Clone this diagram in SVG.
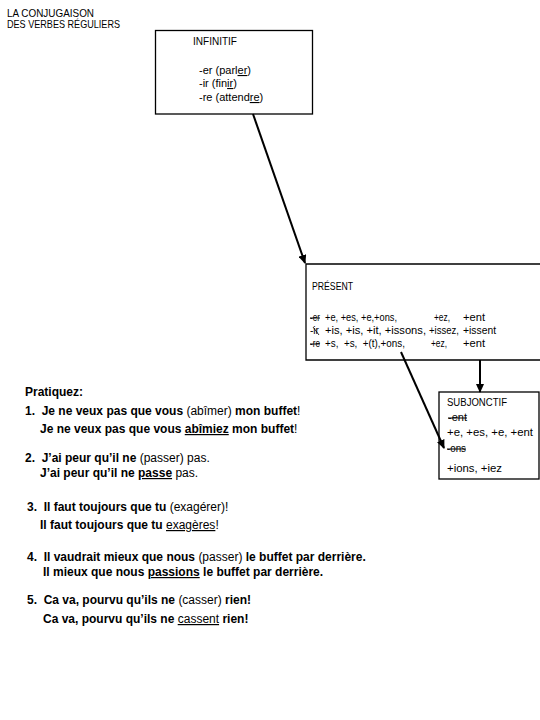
<svg xmlns="http://www.w3.org/2000/svg" width="540" height="720" viewBox="0 0 540 720">
<style>
  text { font-family: "Liberation Sans", Arial, sans-serif; fill: #000; }
  .t { font-size: 11px; }
  .b { font-size: 10px; }
  .i { font-size: 11px; }
  .p { font-size: 12px; font-weight: bold; }
  .n { font-weight: normal; }
  .u { text-decoration: underline; }
  .s { text-decoration: line-through; }
  .box { fill: #fff; stroke: #000; stroke-width: 1.3; }
  .conn { stroke: #000; stroke-width: 2; fill: none; marker-end: url(#ah); }
</style>
<defs>
  <marker id="ah" markerUnits="userSpaceOnUse" markerWidth="9" markerHeight="8" refX="8" refY="4" orient="auto">
    <path d="M0,0 L9,4 L0,8 z" fill="#000"/>
  </marker>
</defs>
<rect width="540" height="720" fill="#fff"/>

<g id="title">
  <text class="t" x="7" y="17" textLength="87" lengthAdjust="spacingAndGlyphs">LA CONJUGAISON</text>
  <text class="t" x="7" y="28" textLength="113" lengthAdjust="spacingAndGlyphs">DES VERBES RÉGULIERS</text>
</g>

<g id="infinitif">
  <rect class="box" x="155.5" y="30.5" width="157" height="83.5"/>
  <text class="b" x="193" y="45" textLength="44" lengthAdjust="spacingAndGlyphs">INFINITIF</text>
  <text class="i" x="199" y="74">-er (parl<tspan class="u">er</tspan>)</text>
  <text class="i" x="199" y="87">-ir (fin<tspan class="u">ir</tspan>)</text>
  <text class="i" x="199" y="101">-re (attend<tspan class="u">re</tspan>)</text>
</g>

<g id="present">
  <path class="box" d="M545,264 H306 V360 H545"/>
  <text class="b" x="312" y="290" textLength="41" lengthAdjust="spacingAndGlyphs">PRÉSENT</text>
  <text class="b s" x="310" y="321" textLength="10" lengthAdjust="spacingAndGlyphs">-er</text>
  <text class="b" x="325" y="321" textLength="72" lengthAdjust="spacingAndGlyphs">+e, +es, +e,+ons,</text>
  <text class="b" x="434" y="321" textLength="16" lengthAdjust="spacingAndGlyphs">+ez,</text>
  <text class="b" x="463" y="321" textLength="22" lengthAdjust="spacingAndGlyphs">+ent</text>
  <text class="b" x="310" y="334" textLength="9" lengthAdjust="spacingAndGlyphs">-ir</text>
  <line x1="313" y1="327" x2="319" y2="335" stroke="#000" stroke-width="0.8"/>
  <text class="b" x="325" y="334" textLength="101" lengthAdjust="spacingAndGlyphs">+is, +is, +it, +issons,</text>
  <text class="b" x="429" y="334" textLength="30" lengthAdjust="spacingAndGlyphs">+issez,</text>
  <text class="b" x="463" y="334" textLength="33" lengthAdjust="spacingAndGlyphs">+issent</text>
  <text class="b s" x="310" y="347" textLength="10" lengthAdjust="spacingAndGlyphs">-re</text>
  <text class="b" x="325" y="347" textLength="80" lengthAdjust="spacingAndGlyphs" xml:space="preserve">+s,  +s,  +(t),+ons,</text>
  <text class="b" x="431" y="347" textLength="16" lengthAdjust="spacingAndGlyphs">+ez,</text>
  <text class="b" x="463" y="347" textLength="22" lengthAdjust="spacingAndGlyphs">+ent</text>
</g>

<g id="subjonctif">
  <rect class="box" x="439" y="392" width="100" height="87"/>
  <text class="b" x="447" y="406" textLength="60" lengthAdjust="spacingAndGlyphs">SUBJONCTIF</text>
  <text class="b s" x="448" y="421" textLength="19" lengthAdjust="spacingAndGlyphs">-ent</text>
  <text class="b" x="447" y="436" textLength="86" lengthAdjust="spacingAndGlyphs">+e, +es, +e, +ent</text>
  <text class="b s" x="447" y="452" textLength="19" lengthAdjust="spacingAndGlyphs">-ons</text>
  <text class="b" x="447" y="472" textLength="55" lengthAdjust="spacingAndGlyphs">+ions, +iez</text>
</g>

<g id="connectors">
  <line class="conn" x1="253" y1="114" x2="305" y2="263"/>
  <line class="conn" x1="401" y1="352" x2="444" y2="448"/>
  <line class="conn" x1="480" y1="360" x2="480" y2="392"/>
</g>

<g id="pratiquez">
  <text class="p" x="25" y="396">Pratiquez:</text>
  <text class="p" x="25" y="415" xml:space="preserve">1.  Je ne veux pas que vous <tspan class="n">(abîmer)</tspan> mon buffet<tspan class="n">!</tspan></text>
  <text class="p" x="40" y="433">Je ne veux pas que vous <tspan class="u">abîmiez</tspan> mon buffet<tspan class="n">!</tspan></text>
  <text class="p" x="25" y="462" xml:space="preserve">2.  J’ai peur qu’il ne <tspan class="n">(passer) pas.</tspan></text>
  <text class="p" x="40" y="477">J’ai peur qu’il ne <tspan class="u">passe</tspan><tspan class="n"> pas.</tspan></text>
  <text class="p" x="27" y="511" xml:space="preserve">3.  Il faut toujours que tu <tspan class="n">(exagérer)!</tspan></text>
  <text class="p" x="40" y="529">Il faut toujours que tu <tspan class="n u">exagères</tspan><tspan class="n">!</tspan></text>
  <text class="p" x="27" y="561" xml:space="preserve">4.  Il vaudrait mieux que nous <tspan class="n">(passer)</tspan> le buffet par derrière.</text>
  <text class="p" x="43" y="576">Il mieux que nous <tspan class="u">passions</tspan> le buffet par derrière.</text>
  <text class="p" x="27" y="604" xml:space="preserve">5.  Ca va, pourvu qu’ils ne <tspan class="n">(casser)</tspan> rien!</text>
  <text class="p" x="43" y="623">Ca va, pourvu qu’ils ne <tspan class="n u">cassent</tspan> rien!</text>
</g>
</svg>
